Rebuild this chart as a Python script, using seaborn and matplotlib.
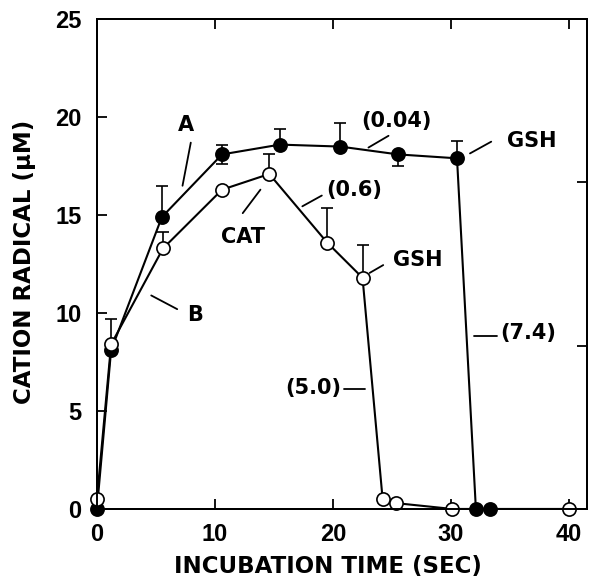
import matplotlib
matplotlib.use("Agg")
import matplotlib.pyplot as plt
import seaborn as sns

# series A (filled) and B (open)
time_a = [0, 1.2, 5.5, 10.6, 15.5, 20.6, 25.5, 30.5, 32.1, 33.3]
rad_a = [0, 8.1, 14.9, 18.1, 18.6, 18.5, 18.1, 17.9, 0, 0]
err_a_up = [0, 0, 1.6, 0.5, 0.8, 1.2, 0, 0.9, 0, 0]
err_a_dn = [0, 0, 0, 0.5, 0, 0, 0.6, 0, 0, 0]

time_b = [0, 1.2, 5.6, 10.6, 14.6, 19.5, 22.5, 24.2, 25.3, 30.1, 40]
rad_b = [0.5, 8.4, 13.3, 16.3, 17.1, 13.6, 11.8, 0.5, 0.3, 0, 0]
err_b_up = [0, 1.3, 0.85, 0, 1.0, 1.75, 1.7, 0, 0, 0, 0]
err_b_dn = [0, 0, 0, 0, 0, 0, 0, 0, 0, 0, 0]

# labels: text, text position, alignment, leader line (x0, y0, x1, y1)
labels = ["A", "B", "CAT", "(0.04)", "GSH", "(0.6)", "GSH", "(5.0)", "(7.4)"]
label_pos = [(7.5, 19.6), (8.3, 9.9), (12.4, 13.9), (25.4, 19.8), (36.8, 18.8),
             (21.8, 16.3), (27.2, 12.7), (18.3, 6.2), (34.2, 9.0)]
label_ha = ["center", "center", "center", "center", "center",
            "center", "center", "center", "left"]
leaders = [(7.95, 18.7, 7.25, 16.5), (4.6, 10.9, 6.8, 10.2), (13.85, 16.3, 12.35, 15.1),
           (23.0, 18.45, 24.7, 19.05), (31.6, 18.15, 33.4, 18.75),
           (17.4, 15.45, 19.05, 16.0), (23.1, 12.05, 24.25, 12.45),
           (20.9, 6.1, 22.7, 6.1), (31.95, 8.85, 33.85, 8.85)]

sns.set_style("ticks")
plt.rcParams["font.family"] = ["DejaVu Sans"]
plt.rcParams["font.weight"] = "bold"
plt.rcParams["text.color"] = "black"
plt.rcParams["axes.labelcolor"] = "black"
plt.rcParams["xtick.color"] = "black"
plt.rcParams["ytick.color"] = "black"
plt.rcParams["axes.edgecolor"] = "black"

fig = plt.figure(figsize=(5.91, 5.83), dpi=100)
ax = fig.add_axes([0.164, 0.127, 0.829, 0.84])


def draw_err(ax, x, y, dn, up):
    idx = [i for i in range(len(x)) if dn[i] > 0 or up[i] > 0]
    ax.errorbar([x[i] for i in idx], [y[i] for i in idx],
                yerr=[[dn[i] for i in idx], [up[i] for i in idx]],
                fmt="none", ecolor="black", elinewidth=1.2, capsize=4, capthick=1.2, zorder=2)


draw_err(ax, time_a, rad_a, err_a_dn, err_a_up)
draw_err(ax, time_b, rad_b, err_b_dn, err_b_up)

sns.lineplot(x=time_a, y=rad_a, ax=ax, estimator=None, sort=False, color="black",
             linewidth=1.5, marker="o", markersize=9.5, markerfacecolor="black",
             markeredgecolor="black", markeredgewidth=1.2, clip_on=False, zorder=3)
sns.lineplot(x=time_b, y=rad_b, ax=ax, estimator=None, sort=False, color="black",
             linewidth=1.5, marker="o", markersize=9.5, markerfacecolor="white",
             markeredgecolor="black", markeredgewidth=1.2, clip_on=False, zorder=4)

for txt, (tx, ty), ha, (x0, y0, x1, y1) in zip(labels, label_pos, label_ha, leaders):
    ax.text(tx, ty, txt, fontsize=15, fontweight="bold", ha=ha, va="center")
    ax.plot([x0, x1], [y0, y1], color="black", linewidth=1.3)

ax.set_xlim(0, 41.5)
ax.set_ylim(0, 25)
ax.set_xticks([0, 10, 20, 30, 40])
ax.set_yticks([0, 5, 10, 15, 20, 25])
ax.tick_params(axis="both", direction="in", length=7, width=1.3, top=True)
ax.tick_params(axis="x", pad=10)
ax.tick_params(axis="y", pad=11)
for lab in ax.get_xticklabels() + ax.get_yticklabels():
    lab.set_fontfamily("Liberation Sans")
    lab.set_fontweight("bold")
    lab.set_fontsize(17)
for s in ax.spines.values():
    s.set_linewidth(1.4)

ax2 = ax.twinx()
ax2.set_ylim(0, 3)
ax2.set_yticks([1, 2])
ax2.set_yticklabels([])
ax2.tick_params(axis="y", direction="in", length=7, width=1.3)
for s in ax2.spines.values():
    s.set_linewidth(1.4)

ax.set_xlabel("INCUBATION TIME (SEC)", fontsize=16.5, fontweight="bold")
ax.set_ylabel("CATION RADICAL (μM)", fontsize=16.5, fontweight="bold")
ax.xaxis.set_label_coords(0.471, -0.095)
ax.yaxis.set_label_coords(-0.124, 0.505)

fig.savefig("out.png", dpi=100)
